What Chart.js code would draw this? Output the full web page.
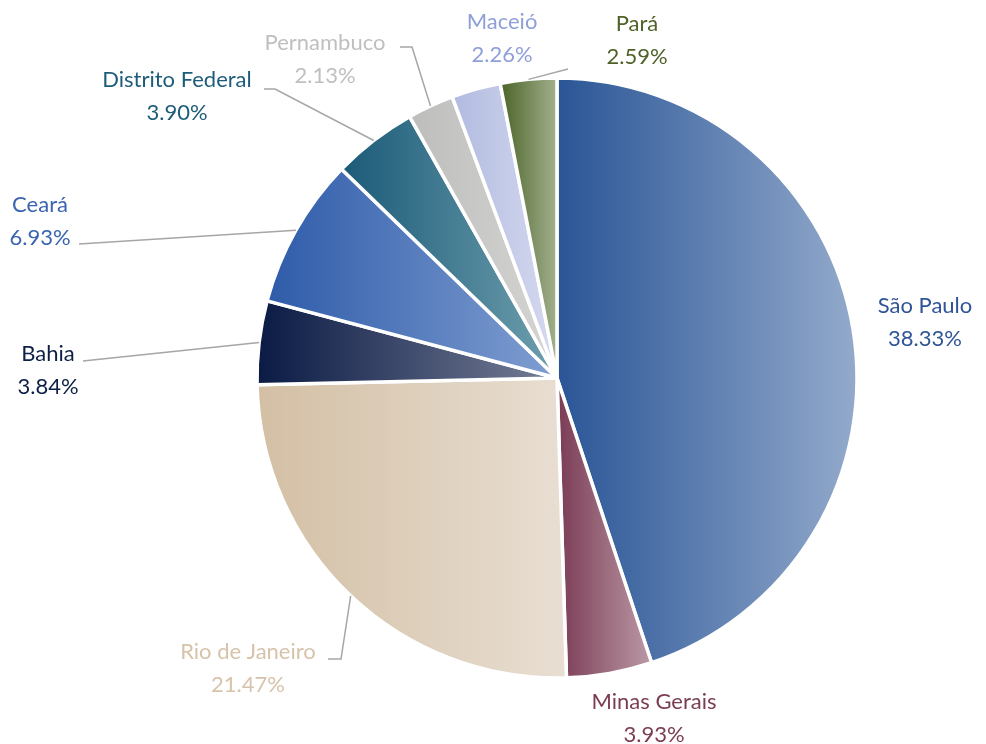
<!DOCTYPE html>
<html>
<head>
<meta charset="utf-8">
<script src="https://cdn.jsdelivr.net/npm/chart.js@4.4.1/dist/chart.umd.min.js"></script>
<style>
  html, body { margin: 0; padding: 0; background: #ffffff; }
  #wrap { width: 986px; height: 744px; }
</style>
</head>
<body>
<div id="wrap"><canvas id="pieChart" width="986" height="744"></canvas></div>
<script>
/* répartition par état – camembert avec dégradés et étiquettes externes */

// données
const states = ["São Paulo", "Minas Gerais", "Rio de Janeiro", "Bahia", "Ceará",
  "Distrito Federal", "Pernambuco", "Maceió", "Pará"];
const shares = [38.33, 3.93, 21.47, 3.84, 6.93, 3.90, 2.13, 2.26, 2.59];

// couleurs : début (gauche) et fin (droite) du dégradé, puis couleur du texte
const darkColors = ["#2a5596", "#7a3b54", "#d3bfa4", "#0a1a44", "#2e5ba9",
  "#1b5a78", "#bdbebb", "#b1bbe0", "#4c6428"];
const lightColors = ["#93aacb", "#bb99a6", "#e8ded2", "#767e96", "#809ed1",
  "#6e9fad", "#d5d6d4", "#d6daef", "#a2b08e"];
const textColors = ["#2f5597", "#7b3d52", "#d6c3aa", "#0d1f45", "#3a64b0",
  "#1d5c7a", "#bfbfbf", "#8f9fd8", "#4f6228"];

// placement des étiquettes (centre du texte) et coudes des traits de rappel
const labelPos = [
  { x: 925, y: 306, line: null },
  { x: 654, y: 702, line: null },
  { x: 248, y: 652, line: [[328, 659], [341, 659]] },
  { x: 48, y: 354, line: [[83, 361]] },
  { x: 40, y: 205, line: [[79, 244]] },
  { x: 177, y: 80, line: [[264, 89], [275, 89]] },
  { x: 325, y: 43, line: [[400, 47], [412, 47]] },
  { x: 502, y: 22, line: null },
  { x: 637, y: 24, line: [[568, 69]] }
];

const RADIUS = 300;
const FONT = "22px Lato, 'Open Sans', sans-serif";

// angles de chaque part (départ en haut, sens horaire)
function sliceAngles(i) {
  const total = shares.reduce((a, b) => a + b, 0);
  let start = 0;
  for (let k = 0; k < i; k++) start += shares[k];
  const a0 = -Math.PI / 2 + (start / total) * 2 * Math.PI;
  const a1 = a0 + (shares[i] / total) * 2 * Math.PI;
  return [a0, a1];
}

// dégradé horizontal calé sur l'étendue de la part
function sliceGradient(context) {
  const chart = context.chart;
  const i = context.dataIndex;
  const area = chart.chartArea;
  if (!area || i === undefined) return darkColors[i] || "#888";
  const cx = (area.left + area.right) / 2;
  const [a0, a1] = sliceAngles(i);
  let minX = cx, maxX = cx;
  for (let s = 0; s <= 60; s++) {
    const a = a0 + (a1 - a0) * s / 60;
    const x = cx + RADIUS * Math.cos(a);
    minX = Math.min(minX, x);
    maxX = Math.max(maxX, x);
  }
  const g = chart.ctx.createLinearGradient(minX, 0, maxX, 0);
  g.addColorStop(0, darkColors[i]);
  g.addColorStop(1, lightColors[i]);
  return g;
}

// étiquettes et traits de rappel
const outsideLabels = {
  id: "outsideLabels",
  afterDatasetsDraw(chart) {
    const ctx = chart.ctx;
    const arcs = chart.getDatasetMeta(0).data;
    ctx.save();
    arcs.forEach((arc, i) => {
      const pos = labelPos[i];
      if (pos.line) {
        const mid = (arc.startAngle + arc.endAngle) / 2;
        const ex = arc.x + arc.outerRadius * Math.cos(mid);
        const ey = arc.y + arc.outerRadius * Math.sin(mid);
        ctx.beginPath();
        ctx.strokeStyle = "#a6a6a6";
        ctx.lineWidth = 1.5;
        ctx.moveTo(pos.line[0][0], pos.line[0][1]);
        pos.line.slice(1).forEach(p => ctx.lineTo(p[0], p[1]));
        ctx.lineTo(ex, ey);
        ctx.stroke();
      }
      ctx.font = FONT;
      ctx.fillStyle = textColors[i];
      ctx.textAlign = "center";
      ctx.textBaseline = "middle";
      ctx.fillText(states[i], pos.x, pos.y);
      ctx.fillText(shares[i].toFixed(2) + "%", pos.x, pos.y + 33);
    });
    ctx.restore();
  }
};

new Chart(document.getElementById("pieChart"), {
  type: "pie",
  data: {
    labels: states,
    datasets: [{
      data: shares,
      backgroundColor: sliceGradient,
      borderColor: "#ffffff",
      borderWidth: 3.5
    }]
  },
  options: {
    responsive: false,
    animation: false,
    radius: RADIUS,
    layout: { padding: { left: 257, right: 129, top: 78, bottom: 66 } },
    plugins: {
      legend: { display: false },
      tooltip: { enabled: false }
    }
  },
  plugins: [outsideLabels]
});
</script>
</body>
</html>
